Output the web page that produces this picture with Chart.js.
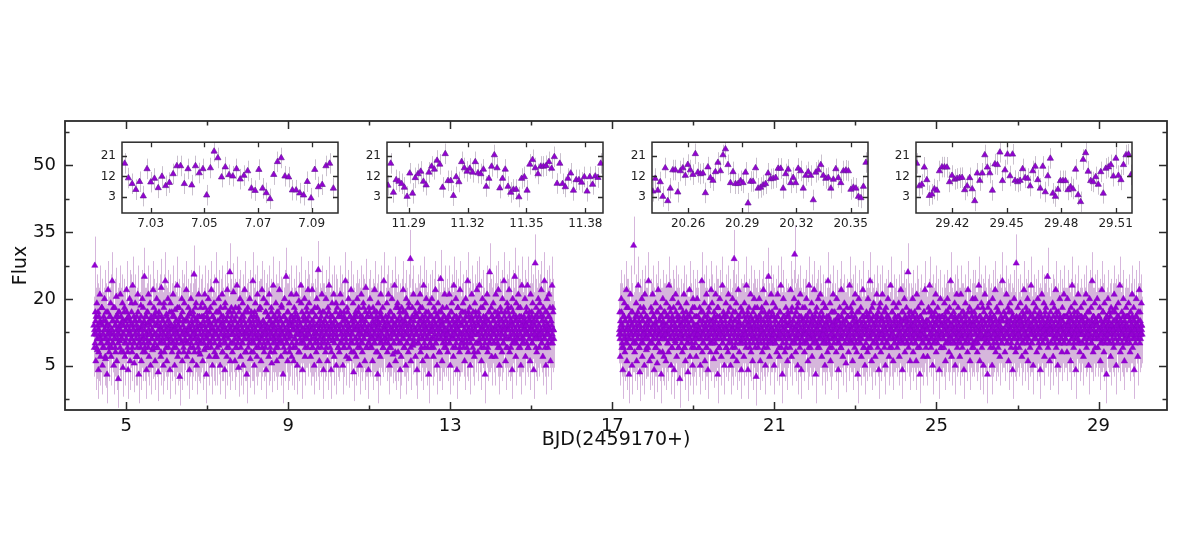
<!DOCTYPE html>
<html><head><meta charset="utf-8">
<script src="https://cdn.jsdelivr.net/npm/chart.js@4.4.1/dist/chart.umd.min.js"></script>
<style>
html,body{margin:0;padding:0;background:#fff;}
#wrap{position:relative;width:1200px;height:551px;overflow:hidden;background:#fff;}
canvas{position:absolute;}
</style></head><body>
<div id="wrap">
<canvas id="main" width="1200" height="551" style="left:0;top:0"></canvas>
<canvas id="in1" width="269" height="108" style="left:77px;top:129px"></canvas>
<canvas id="in2" width="269" height="108" style="left:342px;top:129px"></canvas>
<canvas id="in3" width="269" height="108" style="left:607px;top:129px"></canvas>
<canvas id="in4" width="269" height="108" style="left:871px;top:129px"></canvas>
</div>
<script>
// ---------- main panel ----------
const mainXTicks = [5, 9, 13, 17, 21, 25, 29];
const mainXMinor = [7, 11, 15, 19, 23, 27];
const mainYTicks = [5, 20, 35, 50];
const mainYMinor = [-2.5, 12.5, 27.5, 42.5, 57.5];
const seg1Start = 4.20, seg1End = 15.55;
const seg2Start = 17.17, seg2End = 30.07;
const mainErr = 6.5;

// sampled flux, first orbit (two interleaved samples of the same time span)
const seg1FluxA = [
14,9,27.5,17,6,12,19,8.5,13,4,16,11,21,7,14.5,10,18,5,12,15,9,20,13,6.5,17,11,3,14,22,10,
8,16,12.5,19,7,13,24,10,15,5,11,18,9,14,20.5,6,12,16,2,13,17,10.5,21,8,14,11,19,4.5,15,12,
18,7,13,10,22,15.5,9,4,16,12,20,6,14,11,17,8,23,13,10,5.5,15,19,12,7,16,9,21,13.5,3,11,
15,10,18.5,6,13,20,8,14,11,25,9,16,12,4,17,10,14.5,21,7,12,19,5,15,11,13,8.5,22,16,9,14,
6,17,12,20,9,14,3.5,16,11,19,13,7,22.5,10,15,12,5,18,8,14,24,11,16.5,6,13,20,9,15,12,4,
19,11,14,8,16,21,10,13,5,17.5,12,9,15,23,7,14,11,18,2.5,13,16,10,20,6,12,15,8,19,13,10.5,
12,22,7,15,10,18,13,4,16.5,9,20,11,14,6,17,12,25.5,8,15,11,19,5,13,16,9,21,10,14,7.5,18,
10,14,19,6,12,16,8.5,21,13,11,3,17,15,9,20,12,7,14,18,10,22,13.5,5,16,11,19,8,15,12,24,
7,13,17,11,20,9.5,15,5,18,12,14,21,8,16,10,13,4,19,11.5,15,7,22,12,17,9,14,26,6,13,18,
16,8,12,21.5,10,15,6,18,13,9,23,11,14,4.5,17,12,20,7,15,10,13,19,5,16,11,22,8,14,12.5,3,
13,18,9,15,11,20,6.5,14,17,10,12,24,8,16,5,13,19,11,15,7,21,12,9,17.5,14,10,18,6,13,22,
11,15,20,8,14,12,17,4,19,10,13.5,16,7,21,12,9,15,18,5.5,14,11,23,13,8,16,10,19,12,6,15,
9,17,13,22,10,15,7,18.5,12,14,3,16,11,20,8,13,25,10,15,6,17,12,19,9,14,11.5,21,7,16,13,
14,6,18,11,16,9,21,13,5,15,12,19.5,8,14,10,23,12,17,4,13,16,10,20,7,15,11,18,13,9,22,
12,19,10,14,7,17,13,22,9,15,11,5,18,12.5,16,8,20,14,10,26.5,13,6,17,11,15,9,21,12,14,4,
17,10,15,8,20,12,14,6,18,11,23,13,9,16,4,14,19,10.5,12,21,7,15,13,17,5,11,18,14,9,16,
8,14,21,12,16,10,19,5,13,17,9,15,24,11,7,18,12,14,20,6.5,13,16,10,22,8,15,12,19,3.5,14,
15,11,17,7,13,20,9,14,18,12,5,16,10,21,13,8,15,19,11,14,6,17,22.5,12,9,16,13,4,18,10,
20,9,13,16,11,6,18,14,10,22,12,15,8,17,13,3,19,11,14.5,16,7,21,12,10,15,18,9,24,13,11,
10,16,12,19,8,14,21,11,5,17,13,9,15,20,12,7.5,16,10,23,14,6,18,11,13,19,8,15,12,17,4,
13,7,18,11,15,22,9,14,12,17,5,20,10,16,13,8,19,14,11,29,6,15,12,18,9.5,21,13,10,16,7,
16,12,4,19,14,10,17,13,21,8,15,11,18,6,14,23,12,9,16,13,20,7,15,11,17,3,14,19,10,12.5,
9,20,13,15,7,18,11,14,22,10,16,5,13,19,12,17,8,15,24.5,11,14,6,18,12,16,9,21,13,10,15,
18,12,8,16,14,21,10,5,17,13,19,11,15,7,23,12,14,9,20,16,4,13,18,11,15,8,22,14,10,17,
11,15,19,9,13,6,17,20,12,14,10,24,8,16,13,18,5,15,11,21,12,9,17,14,7,19,13,16,10,22,
14,8,17,12,23,10,15,18,6,13,20,11,16,9,14,3,19,12,15,21,8,13,17,10,26,14,11,18,7,16,
12,19,10,15,13,7,21,14,11,17,9,22,16,5,13,18,12,15,8,20,14,10,24,13,17,6,15,11,19,9,
17,13,22,8,15,11,18,14,4,20,12,16,10,25,13,7,19,15,11,14,21,9,16,12,18,5,14,23,10,15,
10,16,13,20,7,14,18,12,23,9,15,11,17,6,21,13,16,10,19,14,4,15,12,28,11,18,8,16,13,20,
14,9,19,12,16,22,10,15,7,18,13,24,11,17,5,14,20,12,9,16,21,13,18,6,15,11,23,10,17,13
];
const seg1FluxB = [
12,13,10,15,16,9,11,14,17,8,13,12,15,10,11,18,14,9,12,16,13,11,7,15,14,10,12,17,13,9,
14,11,16,12,9,13,15,10,18,12,11,14,8,16,13,15,11,10,17,12,14,9,13,16,11,15,12,8,14,17,
10,15,13,11,17,14,8,12,16,13,10,15,12,19,11,9,14,13,16,10,12,15,11,14,7,13,17,12,10,15,
13,9,16,14,11,12,18,10,15,13,8,14,16,11,12,17,9,13,15,10,14,12,16,11,13,9,15,18,12,10,
16,12,11,14,9,15,13,17,10,12,14,8,16,13,11,15,12,19,10,14,13,9,16,12,15,11,14,10,17,13,
11,14,17,10,13,12,9,16,14,11,15,13,10,18,12,14,8,15,13,11,16,10,12,17,14,9,13,15,11,12,
15,10,13,16,12,8,14,11,17,13,10,15,12,14,9,16,13,11,18,12,10,14,15,13,11,8,16,12,14,10,
13,16,11,12,15,10,14,18,9,13,12,16,11,14,10,15,17,12,13,9,14,11,16,13,12,15,10,7,14,17,
12,9,15,13,11,17,10,14,12,16,13,8,15,11,14,12,18,10,13,15,9,16,12,11,14,13,17,10,15,12,
10,14,12,17,13,11,15,9,16,12,14,10,13,18,11,15,12,9,14,16,13,10,12,15,11,17,14,8,13,12,
17,11,13,10,15,14,12,16,8,13,11,15,14,10,17,12,13,9,16,14,11,12,15,10,18,13,11,14,12,9,
12,15,10,14,13,9,17,11,14,12,16,10,13,15,11,8,14,17,12,13,10,16,14,11,15,12,9,13,17,11,
14,10,16,12,11,15,13,18,10,12,14,9,16,13,11,15,12,10,17,14,13,11,8,15,12,16,14,10,13,15,
9,13,15,11,17,12,10,14,16,13,8,15,12,11,14,19,13,10,12,15,11,16,13,9,14,12,17,11,15,13,
16,12,14,10,13,11,15,9,17,14,12,13,10,16,11,14,12,18,9,13,15,11,14,12,16,10,13,17,11,14,
11,15,13,12,9,16,14,10,13,17,11,12,15,14,8,13,16,11,12,14,10,15,13,19,12,11,14,9,16,13,
13,10,17,14,12,11,15,13,9,16,12,14,11,10,15,13,17,12,14,9,13,16,11,12,15,10,14,13,8,16,
15,13,11,16,10,14,12,17,13,11,9,15,14,12,16,10,13,18,11,14,12,15,9,13,16,12,10,14,17,11,
12,16,14,9,13,15,11,12,17,10,14,13,16,11,8,15,12,14,13,10,17,11,16,12,13,9,15,14,11,13,
14,11,13,15,12,10,16,14,9,13,17,12,11,15,13,14,10,16,12,8,14,13,15,11,18,12,10,14,16,13,
10,15,12,14,17,13,11,9,15,12,16,14,10,13,12,18,11,14,15,9,13,12,16,10,14,11,15,13,17,12,
13,12,16,10,14,11,15,13,18,12,9,14,16,11,13,15,10,12,14,17,11,13,9,15,12,14,16,10,13,11,
16,14,11,13,9,15,12,17,10,14,13,11,16,12,15,8,14,13,11,17,12,15,10,14,13,16,11,12,9,15,
11,13,15,12,16,10,14,11,13,17,12,15,9,14,11,16,13,12,10,15,14,18,11,13,12,9,16,14,12,10,
14,17,12,10,13,15,11,16,14,9,12,13,17,11,15,12,10,14,16,13,11,15,12,8,14,13,17,10,12,15,
12,10,14,16,11,13,15,9,12,14,18,11,13,15,10,12,16,14,11,13,9,15,12,17,10,14,13,11,16,12,
15,13,10,12,17,14,11,13,16,10,12,15,14,9,13,11,17,12,15,13,10,14,16,11,12,15,9,13,14,18,
13,11,16,14,12,9,15,13,10,17,14,12,11,15,13,16,10,12,14,11,18,13,15,9,12,16,11,14,13,10,
11,14,12,15,13,17,10,14,12,9,16,13,11,15,14,12,17,10,13,15,11,12,14,16,9,13,15,12,11,17,
14,12,17,11,13,10,15,12,16,14,11,13,9,15,12,17,13,10,14,12,16,11,13,15,10,14,12,18,13,11
];

// sampled flux, second orbit
const seg2FluxA = [
12,17,7,14,20,9,13,4,16,11,19,8,15,10,22,6,13,18,11,3,15,9,21,12,17,5,14,10,32,13,
8,15,12,19,6,16,11,23,9,14,3.5,18,13,10,20,7,15,12,17,5,21,11,14,8.5,16,13,9,24,12,6,
15,10,18,13,7,21,11,16,4,14,12,19,9,17,5.5,13,22,10,15,8,18,12,3,16,11,20,14,7,13,17,
12,6,19,14,10,16,8,23,13,11,17,5,15,9,20,12,18,4,14,10.5,21,13,7,16,11,19,9,15,2,12,
18,11,14,8,17,13,21,9,15,6,12,19,10,16,3.5,14,11,22,7,13,17,10,15,5,20,12,9,18,14,11,
7,14,20,12,16,9,13,18,5,15,11,24,8,17,12,10,19,6,14,13,21,9,16,4,12,18,11,15,8,22,
13,19,10,15,6.5,17,12,14,21,8,11,16,3,18,13,9,20,12,15,7,14,23,10,17,11,5,16,13,19,9,
16,12,8,21,14,11,18,5,15,10,13,20,7,17,29,12,9,15,19,6,13,11,22,14,8,16,10,18,4,12,
10,17,13,7,19,12,15,9,23,11,16,4,14,18,10,13,21,8,15,12,6,17,11,20,14,9,16,2.5,13,18,
14,9,16,20,11,6,15,13,18,8,12,22,10,17,14,5,19,11,13,9,16,25,12,7,15,10,21,13,17,11,
19,12,5,15,10,18,13,8,16,21,11,14,7,17,12,23,9,15,3,13,20,11,16,8,14,18,10,12,6,17,
11,16,14,9,22,13,7,18,12,15,10,20,30,13,8,17,11,14,5,19,12,16,9,21,13,4,15,11,18,10,
15,8,18,12,14,20,10,16,6,13,23,11,17,9,14,19,7,12,15,11,22,10,16,3,14,18,13,9,20,12,
9,14,21,11,17,7,15,12,19,10,13,5,18,14,11,16,8,24,13,10,15,19,6,12,17,9,14,21,11,15,
17,11,13,8,20,15,12,4,16,10,18,13,9,22,11,14,7,17,12,19,10,15,5.5,13,18,11,16,8,14,23,
12,18,10,16,13,6,19,11,15,9,21,14,12,8,17,3,13,20,10,15,11,18,7,14,12,22,9,16,13,5,
14,10,17,12,8,20,13,16,11,24,9,15,6,18,12,14,19,10,13,7,16,11,21,15,9,17,4,12,14,19,
8,15,12,21,11,14,17,9,13,5,18,12,16,10,20,14,7,15,11,23,13,9,17,12,6,19,14,10,16,11,
18,13,9,16,11,19,7,14,12,22,10,15,4,17,13,11,20,8,15,12,18,10,14,26,9,16,12,6,13,17,
11,16,20,8,14,12,17,10,15,6,21,13,9,18,11,14,3,16,12,19,10,15,13,7,17,11,22,14,9,15,
13,7,15,18,10,23,12,14,9,17,11,5,19,13,16,10,14,21,8,12,15,18,11,13,4,16,20,9,14,12,
16,11,13,9,19,14,6,17,12,15,20,10,13,8,18,11,24,14,7,16,12,10,17,13,19,5,15,11,21,9,
10,18,14,12,7,16,21,11,15,9,13,17,4,14,12,19,10,16,13,8,22,11,15,18,6,14,12,17,9,20,
14,9,17,12,20,10,15,13,8,18,11,23,14,6,16,12,19,9,15,13,5,17,11,21,14,10,16,12,3,18,
12,19,11,15,9,17,13,5,20,14,10,16,12,22,8,15,18,11,13,9,17,14,7,19,12,15,10,24,13,11,
17,13,8,16,12,21,10,14,18,6,15,11,19,13,9,17,12,4,16,14,20,11,15,8,28,13,10,18,12,15,
9,15,19,11,14,7,17,13,10,22,12,16,8,18,14,11,20,6,15,13,17,9,12,23,14,10,16,5,19,13,
15,11,14,18,8,13,20,12,16,9,17,4,14,11,21,15,10,13,19,7,16,12,18,11,14,25,9,15,13,6,
13,17,10,15,12,19,7,14,18,11,13,22,9,16,12,5,17,14,10,20,13,11,15,8,18,12,16,21,10,14,
11,16,13,8,20,14,12,17,10,15,6,18,13,23,11,14,9,16,19,12,4,15,13,17,10,21,12,14,8,16,
18,10,15,12,14,7,19,13,16,11,21,9,14,17,12,5,15,20,11,13,18,10,24,14,8,16,12,19,9,15,
12,14,20,9,16,13,11,18,6,15,12,22,10,17,14,8,19,13,11,15,3,16,12,20,14,10,17,13,7,18,
14,11,17,13,9,21,15,12,18,5,14,16,10,19,13,11,23,8,15,12,17,14,9,20,13,6,16,11,18,12,
10,16,13,19,11,15,8,17,14,12,21,9,15,18,4,13,11,16,20,12,14,7,17,13,22,10,15,12,19,14
];
const seg2FluxB = [
13,11,15,12,17,10,14,13,9,16,12,15,11,13,18,10,14,12,16,11,13,9,15,14,12,17,11,13,10,15,
12,16,10,14,13,11,17,12,15,9,14,13,16,11,12,15,10,18,13,11,14,12,16,9,13,15,11,14,12,10,
15,12,13,17,10,14,11,16,12,13,9,15,14,11,17,12,10,13,15,12,16,11,14,13,8,15,12,17,11,14,
11,14,16,12,13,10,15,12,18,11,13,14,9,16,12,15,11,13,14,10,17,12,13,15,11,9,16,14,12,13,
14,10,12,15,11,16,13,9,14,12,17,11,15,13,10,14,12,16,11,13,15,9,12,18,14,11,13,16,10,12,
16,13,11,14,12,9,15,13,11,17,12,14,10,15,13,12,16,11,14,9,13,15,12,11,17,14,10,13,15,12,
10,15,14,11,13,16,12,10,15,13,11,18,12,14,9,16,13,11,15,12,14,10,13,16,12,11,15,14,9,13,
13,12,17,10,14,11,15,13,12,16,9,14,13,11,15,12,17,10,13,14,11,16,12,15,13,10,14,11,17,12,
12,14,11,16,13,15,10,12,14,11,17,13,15,12,9,14,16,11,13,12,15,10,14,13,18,11,12,15,13,10,
15,11,13,12,16,10,14,17,12,13,11,15,9,14,12,16,13,11,15,10,14,12,17,13,11,14,16,12,10,13,
11,16,12,14,10,15,13,11,16,12,14,9,13,17,11,15,12,14,10,13,16,12,11,15,13,9,14,16,12,11,
14,12,15,11,13,17,10,14,12,15,13,11,16,10,14,12,13,18,11,15,12,14,10,13,16,11,12,15,14,13,
12,13,10,16,14,11,15,12,13,9,17,14,12,15,11,13,16,10,14,12,15,11,13,17,12,10,14,13,15,11,
16,11,14,12,15,13,10,16,11,14,12,18,13,10,15,12,14,11,16,13,9,15,12,14,11,13,17,12,10,14,
13,15,11,14,12,10,16,13,15,11,14,12,9,16,13,11,15,12,17,14,10,13,15,11,12,16,14,10,13,12,
11,14,13,17,10,15,12,14,11,16,13,10,15,12,14,13,11,17,12,15,10,14,13,11,16,12,15,9,14,13,
14,12,16,11,13,15,9,14,12,17,11,13,15,12,10,16,14,12,13,11,15,14,10,16,12,13,11,18,12,15,
12,16,10,13,15,12,14,11,17,13,10,15,12,14,16,11,13,9,15,12,14,13,17,11,12,15,10,14,13,11,
15,11,14,12,10,16,13,15,12,11,14,17,13,10,15,12,11,16,14,12,13,10,15,13,11,17,12,14,15,10,
13,14,12,16,11,13,15,10,14,12,16,11,13,15,12,9,14,16,11,13,12,15,14,10,17,12,13,11,15,14,
11,15,13,10,17,12,14,11,16,13,12,15,10,14,13,17,11,12,15,14,10,16,12,13,11,15,14,12,9,16,
14,12,11,15,13,16,10,14,12,13,17,11,15,12,14,10,16,13,11,14,12,15,13,10,16,12,14,11,13,15,
12,16,14,11,13,10,15,12,17,14,11,13,16,12,10,15,14,11,13,12,17,10,14,15,12,13,11,16,14,10,
15,13,10,14,16,12,11,15,13,10,14,12,16,13,11,15,12,14,18,11,13,15,10,12,14,16,11,13,12,15,
10,14,12,16,13,11,15,14,12,9,16,13,11,15,12,14,10,17,13,12,15,11,14,13,16,10,12,15,13,11,
13,11,16,12,14,15,10,13,12,17,11,14,13,15,10,12,16,14,11,13,12,15,9,14,16,12,13,11,15,14,
16,12,13,11,15,10,14,16,12,13,11,15,14,12,17,10,13,15,11,14,12,16,13,10,14,12,15,13,11,17,
12,15,11,14,13,16,12,10,15,13,14,11,16,12,13,10,15,14,12,11,17,13,14,12,15,10,13,16,12,14,
14,10,15,13,12,11,16,14,13,10,15,12,17,11,14,13,12,15,10,16,13,14,11,12,15,13,10,14,16,12,
11,13,14,16,12,15,10,13,14,12,16,11,13,15,12,14,10,17,13,11,14,12,15,16,11,13,14,10,12,15,
13,16,12,10,15,14,11,13,16,12,14,10,15,13,11,12,17,14,12,13,10,15,14,11,16,13,12,14,15,11,
15,12,14,13,11,16,13,12,10,15,14,13,11,17,12,14,15,10,13,12,16,14,11,13,15,12,10,16,13,14,
12,14,10,15,13,12,17,11,14,13,15,10,12,16,14,11,13,15,12,14,10,13,16,12,11,15,14,13,10,16,
14,11,13,16,12,10,15,13,12,14,16,11,13,12,15,14,10,13,16,12,14,11,15,13,12,17,11,14,13,12
];

// ---------- insets ----------
const cadence = 0.0013889; // 2-minute sampling, in days
const insetYTicks = [3, 12, 21];
const insetErr = 4.5;

const inset1Start = 7.0203;
const inset1Range = [7.0193, 7.0998];
const inset1Ticks = [7.03, 7.05, 7.07, 7.09];
const inset1Flux = [17.7,11.3,8.8,6.2,9.7,3.4,15.3,9.5,11.1,7.0,12.0,7.9,9.3,13.1,16.6,16.6,8.8,15.3,8.2,16.6,13.5,15.3,3.8,15.7,23.0,20.1,11.7,16.1,12.7,12.1,15.3,10.8,12.4,14.4,6.8,5.8,15.0,6.8,4.8,2.2,12.8,18.4,20.1,12.1,11.7,6.0,6.0,4.7,3.8,9.7,2.5,15.0,7.4,8.4,16.6,17.7,6.8];

const inset2Start = 11.2795;
const inset2Range = [11.279, 11.389];
const inset2Ticks = [11.29, 11.32, 11.35, 11.38];
const inset2Flux = [8.1,17.7,5.0,10.5,9.8,8.8,7.2,3.2,13.4,4.6,11.4,13.1,14.2,9.8,8.2,13.8,16.4,15.1,19.0,17.3,7.2,21.9,10.1,10.1,3.6,11.8,9.6,18.4,15.7,14.2,15.5,13.8,18.4,13.5,13.1,15.1,7.6,11.1,16.4,21.4,15.7,6.9,11.1,15.1,7.6,5.0,6.3,6.3,3.0,11.1,11.8,5.9,17.3,19.3,15.7,13.1,16.4,16.4,16.7,18.4,15.5,20.6,8.9,17.7,8.8,7.4,11.1,13.4,5.9,10.5,10.5,9.4,11.8,5.5,11.8,8.5,12.1,11.5,17.7];

const inset3Start = 20.2404;
const inset3Range = [20.240, 20.3596];
const inset3Ticks = [20.26, 20.29, 20.32, 20.35];
const inset3Flux = [5.5,11.1,5.9,9.6,3.2,15.7,1.3,6.8,14.8,14.8,5.1,14.4,15.7,12.4,17.2,14.8,12.8,21.9,13.8,13.1,13.4,4.8,16.1,11.4,10.2,14.0,18.1,14.4,21.4,24.0,17.1,9.2,14.0,8.8,8.8,10.1,9.2,13.8,0.3,9.8,9.8,15.7,6.8,7.2,8.2,8.8,13.4,10.9,11.1,11.5,15.5,15.5,6.8,13.1,15.1,9.2,11.5,9.2,15.5,14.4,6.8,12.4,14.0,12.4,1.7,13.8,14.8,17.1,12.4,11.1,11.5,6.8,10.7,15.3,11.4,9.2,14.4,14.7,14.4,6.3,7.2,6.8,3.2,2.6,7.6,18.1];

const inset4Start = 29.4004;
const inset4Range = [29.400, 29.519];
const inset4Ticks = [29.42, 29.45, 29.48, 29.51];
const inset4Flux = [17.7,7.8,8.5,16.0,10.5,3.6,4.2,6.5,5.9,14.4,16.1,16.1,16.0,9.6,12.4,10.7,11.1,11.4,11.5,6.1,7.8,11.4,6.5,1.3,13.4,10.2,13.4,21.4,16.0,13.5,5.9,17.4,17.1,22.6,10.1,14.8,21.7,12.2,21.7,10.2,9.6,10.2,15.3,11.4,11.1,7.8,14.4,16.4,10.5,6.8,16.4,5.2,12.2,19.9,4.6,3.2,6.3,10.1,10.1,10.1,6.1,7.4,6.5,15.1,3.9,0.9,19.4,22.3,14.2,10.1,9.6,11.8,8.5,14.0,4.6,15.5,16.1,17.1,12.1,19.9,12.4,10.5,17.1,21.4,21.7,12.7];

// ---------- helpers ----------
const FONT = "'DejaVu Sans', 'Liberation Sans', sans-serif";
const MARK = '#9400D3';

function spanPoints(flux, start, end, shift) {
  const n = flux.length, step = (end - start) / (n - 1);
  return flux.map((v, i) => ({ x: start + (i + shift) * step, y: v }));
}
function cadencePoints(flux, start) {
  return flux.map((v, i) => ({ x: start + i * cadence, y: v }));
}

function errorBarPlugin(err, color) {
  return {
    id: 'errbars',
    beforeDatasetsDraw(chart) {
      const { ctx, chartArea: a, scales: { x, y } } = chart;
      ctx.save();
      ctx.beginPath();
      ctx.rect(a.left, a.top, a.right - a.left, a.bottom - a.top);
      ctx.clip();
      ctx.strokeStyle = color;
      ctx.lineWidth = 1;
      ctx.beginPath();
      chart.data.datasets.forEach(ds => ds.data.forEach(p => {
        const px = Math.round(x.getPixelForValue(p.x)) + 0.5;
        ctx.moveTo(px, y.getPixelForValue(p.y + err));
        ctx.lineTo(px, y.getPixelForValue(p.y - err));
      }));
      ctx.stroke();
      ctx.restore();
    }
  };
}

function framePlugin(cfg) {
  return {
    id: 'frame',
    beforeDraw(chart) {
      if (!cfg.bg) return;
      const { ctx, chartArea: a } = chart;
      ctx.save();
      ctx.fillStyle = cfg.bg;
      ctx.fillRect(a.left, a.top, a.right - a.left, a.bottom - a.top);
      ctx.restore();
    },
    afterDatasetsDraw(chart) {
      const { ctx, chartArea: a, scales: { x, y } } = chart;
      ctx.save();
      ctx.strokeStyle = cfg.color;
      ctx.lineWidth = cfg.tickWidth;
      ctx.beginPath();
      const xt = (vals, len) => vals.forEach(v => {
        const px = Math.round(x.getPixelForValue(v)) + 0.5;
        ctx.moveTo(px, a.bottom); ctx.lineTo(px, a.bottom - len);
        ctx.moveTo(px, a.top); ctx.lineTo(px, a.top + len);
      });
      const yt = (vals, len) => vals.forEach(v => {
        const py = Math.round(y.getPixelForValue(v)) + 0.5;
        ctx.moveTo(a.left, py); ctx.lineTo(a.left + len, py);
        ctx.moveTo(a.right, py); ctx.lineTo(a.right - len, py);
      });
      xt(cfg.xMajor, cfg.major); xt(cfg.xMinor || [], cfg.minor);
      yt(cfg.yMajor, cfg.major); yt(cfg.yMinor || [], cfg.minor);
      ctx.stroke();
      ctx.lineWidth = cfg.lineWidth;
      ctx.strokeRect(a.left, a.top, a.right - a.left, a.bottom - a.top);
      ctx.restore();
    }
  };
}

// ---------- main chart ----------
new Chart(document.getElementById('main'), {
  type: 'scatter',
  data: {
    datasets: [
      { data: spanPoints(seg1FluxA, seg1Start, seg1End, 0) },
      { data: spanPoints(seg1FluxB, seg1Start, seg1End, 0.5) },
      { data: spanPoints(seg2FluxA, seg2Start, seg2End, 0) },
      { data: spanPoints(seg2FluxB, seg2Start, seg2End, 0.5) }
    ]
  },
  options: {
    responsive: false, animation: false, devicePixelRatio: 1,
    layout: { padding: { top: 121, right: 33, bottom: 96, left: 0 } },
    elements: { point: { pointStyle: 'triangle', radius: 3.6, backgroundColor: MARK, borderColor: '#8600c4', borderWidth: 0.5 } },
    plugins: { legend: { display: false }, tooltip: { enabled: false } },
    scales: {
      x: {
        type: 'linear', min: 3.49, max: 30.69,
        afterBuildTicks: s => { s.ticks = mainXTicks.map(v => ({ value: v })); },
        afterFit: s => { s.height = 45; },
        grid: { display: false, drawTicks: false }, border: { display: false },
        ticks: { font: { family: FONT, size: 18 }, color: '#111', padding: 6, maxRotation: 0, autoSkip: false, callback: v => String(v) },
        title: { display: true, text: 'BJD(2459170+)', font: { family: FONT, size: 19 }, color: '#111', padding: { top: 0, bottom: 4 } }
      },
      y: {
        type: 'linear', min: -5, max: 60,
        afterBuildTicks: s => { s.ticks = mainYTicks.map(v => ({ value: v })); },
        afterFit: s => { s.width = 65; },
        grid: { display: false, drawTicks: false }, border: { display: false },
        ticks: { font: { family: FONT, size: 18 }, color: '#111', padding: 9, callback: v => String(v) },
        title: { display: true, text: 'Flux', font: { family: FONT, size: 19 }, color: '#111', padding: { top: 10, bottom: 0 } }
      }
    }
  },
  plugins: [
    errorBarPlugin(mainErr, '#d6b6dc'),
    framePlugin({ xMajor: mainXTicks, xMinor: mainXMinor, yMajor: mainYTicks, yMinor: mainYMinor, major: 8, minor: 4.5, color: '#2b2b2b', lineWidth: 1.8, tickWidth: 1.5 })
  ]
});

// ---------- insets ----------
function makeInset(id, flux, start, range, ticks) {
  new Chart(document.getElementById(id), {
    type: 'scatter',
    data: { datasets: [{ data: cadencePoints(flux, start) }] },
    options: {
      responsive: false, animation: false, devicePixelRatio: 1,
      layout: { padding: { top: 6, right: 8, bottom: 0, left: 0 } },
      elements: { point: { pointStyle: 'triangle', radius: 3.6, backgroundColor: MARK, borderColor: '#6c1a9c', borderWidth: 0.7 } },
      plugins: { legend: { display: false }, tooltip: { enabled: false } },
      scales: {
        x: {
          type: 'linear', min: range[0], max: range[1],
          afterBuildTicks: s => { s.ticks = ticks.map(v => ({ value: v })); },
          afterFit: s => { s.height = 24; },
          grid: { display: false, drawTicks: false }, border: { display: false },
          ticks: { font: { family: FONT, size: 12 }, color: '#222', padding: 4, maxRotation: 0, autoSkip: false, callback: v => v.toFixed(2) }
        },
        y: {
          type: 'linear', min: -4, max: 27,
          afterBuildTicks: s => { s.ticks = insetYTicks.map(v => ({ value: v })); },
          afterFit: s => { s.width = 45; },
          grid: { display: false, drawTicks: false }, border: { display: false },
          ticks: { font: { family: FONT, size: 12 }, color: '#222', padding: 6, callback: v => String(v) }
        }
      }
    },
    plugins: [
      errorBarPlugin(insetErr, '#c9c0cd'),
      framePlugin({ bg: '#ffffff', xMajor: ticks, yMajor: insetYTicks, major: 5, minor: 0, color: '#2b2b2b', lineWidth: 1.5, tickWidth: 1.3 })
    ]
  });
}
makeInset('in1', inset1Flux, inset1Start, inset1Range, inset1Ticks);
makeInset('in2', inset2Flux, inset2Start, inset2Range, inset2Ticks);
makeInset('in3', inset3Flux, inset3Start, inset3Range, inset3Ticks);
makeInset('in4', inset4Flux, inset4Start, inset4Range, inset4Ticks);
</script>
</body></html>
